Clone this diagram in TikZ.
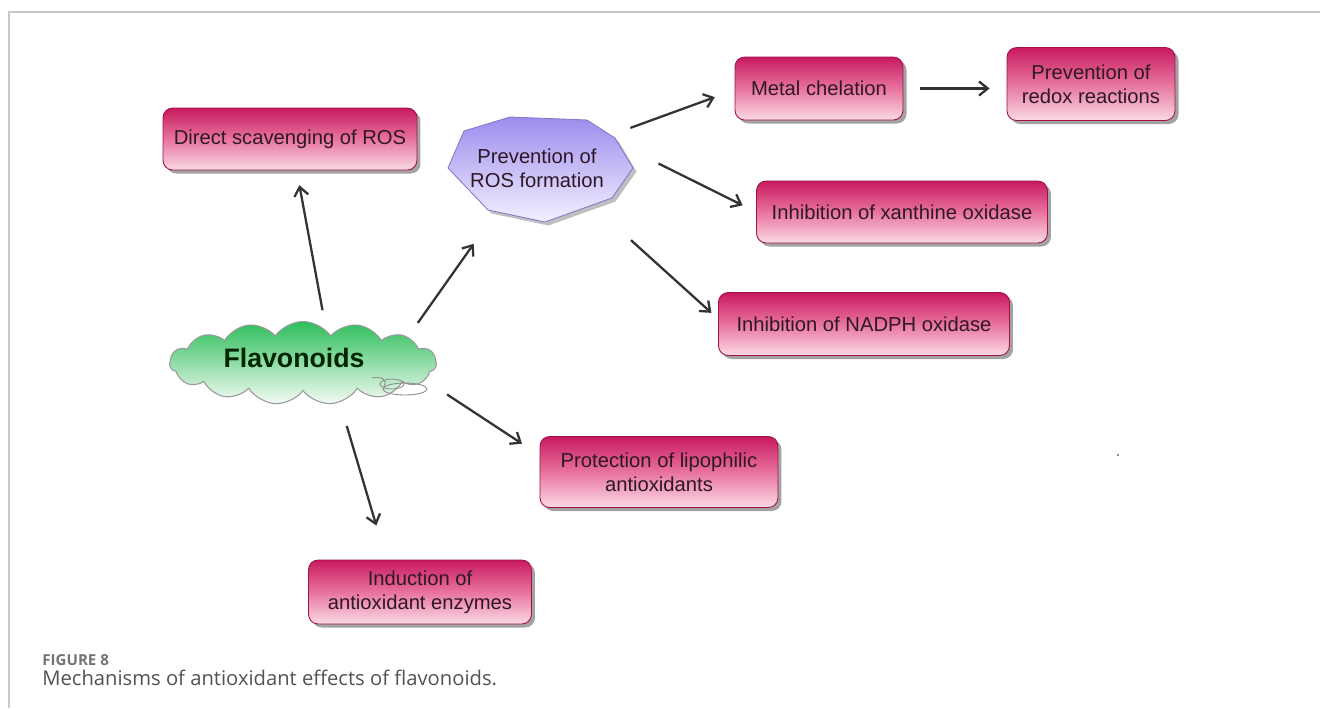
\documentclass[tikz,border=0pt]{standalone}
\usepackage{fontspec}
\setmainfont{Liberation Sans}
\newfontfamily\capfont{Open Sans}
\usetikzlibrary{shapes.geometric,shapes.symbols,shadows,arrows.meta}

\definecolor{boxtop}{HTML}{C81A5E}
\definecolor{boxmid}{HTML}{E8739F}
\definecolor{boxbot}{HTML}{FADAE5}
\definecolor{boxedge}{HTML}{A0104A}
\definecolor{boxtext}{HTML}{2E1826}
\definecolor{octtop}{HTML}{9C8CEE}
\definecolor{octbot}{HTML}{F4F0FF}
\definecolor{octedge}{HTML}{8878C8}
\definecolor{cloudtop}{HTML}{2DBE5A}
\definecolor{cloudbot}{HTML}{F4FBF4}
\definecolor{framegray}{HTML}{C8C8C8}

\tikzset{
  effect/.style={rectangle, rounded corners=5.5pt, draw=boxedge, line width=0.5pt,
    top color=boxtop, bottom color=boxbot, middle color=boxmid, text=boxtext,
    font=\fontsize{11.5}{13.5}\selectfont, align=center, inner sep=0pt,
    drop shadow={shadow xshift=2pt, shadow yshift=-2pt, fill=black!60, opacity=0.6}},
  link/.style={-{Straight Barb[length=5pt,width=8pt]}, line width=1.3pt, black!80},
}

\begin{document}
\begin{tikzpicture}[x=0.02cm,y=-0.02cm]
\useasboundingbox (0,0) rectangle (1320,708);
\draw[framegray, line width=1pt] (9,708) -- (9,12) -- (1320,12);

% octagon behind the text node
\path[draw=octedge, line width=0.5pt, top color=octtop, bottom color=octbot,
  drop shadow={shadow xshift=2pt, shadow yshift=-2pt, fill=black!50, opacity=0.5}]
  (448,168) -- (464,131) -- (510,117) -- (587,120) -- (615,138) -- (633,168)
  -- (612,198) -- (545,222) -- (488,210) -- cycle;
\node[ellipse, inner sep=0pt, minimum width=3.4cm, minimum height=2.1cm] (prev) at (548,170) {};
\node[align=center, text=boxtext, font=\fontsize{11.5}{13.5}\selectfont] (prevtxt) at (537,168) {Prevention of\\ROS formation};

\node[cloud, cloud puffs=15, cloud puff arc=110, cloud ignores aspect, draw=black!40, line width=0.6pt,
  top color=cloudtop, bottom color=cloudbot, minimum width=5.34cm, minimum height=1.66cm,
  inner sep=0pt] (flav) at (303,363) {};
\node[text={black!85!green}, font=\fontsize{15.2}{17}\selectfont\bfseries] (flavtxt) at (294,358) {Flavonoids};
\draw[black!45, line width=0.5pt] (405,389) ellipse [x radius=0.44cm, y radius=0.12cm];
\draw[black!45, line width=0.5pt] (392,384) ellipse [x radius=0.24cm, y radius=0.1cm];
\draw[black!45, line width=0.5pt] (372,378) .. controls (382,376) and (388,380) .. (384,386);

\node[effect, minimum width=5.08cm, minimum height=1.24cm] (direct) at (290,139) {Direct scavenging of ROS};
\node[effect, minimum width=3.36cm, minimum height=1.26cm] (metal) at (819,88.5) {Metal chelation};
\node[effect, minimum width=3.36cm, minimum height=1.46cm] (redox) at (1091,84) {Prevention of\\redox reactions};
\node[effect, minimum width=5.82cm, minimum height=1.24cm] (xanth) at (902,212) {Inhibition of xanthine oxidase};
\node[effect, minimum width=5.82cm, minimum height=1.26cm] (nadph) at (864,324) {Inhibition of NADPH oxidase};
\node[effect, minimum width=4.76cm, minimum height=1.42cm] (protect) at (659,472) {Protection of lipophilic\\antioxidants};
\node[effect, minimum width=4.46cm, minimum height=1.28cm] (induct) at (420,592) {Induction of\\antioxidant enzymes};

\draw[link, shorten <=0.4cm, shorten >=0.3cm] (flav.55.7) -- (direct.-78.2);
\draw[link, shorten <=0.34cm, shorten >=0.78cm] (flav.14.8) -- (prev.-141);
\draw[link, shorten <=0.4cm, shorten >=0.42cm] (prev.29) -- (metal.181);
\draw[link, shorten <=0.34cm, shorten >=0.34cm] (metal.east) -- (metal.east -| redox.west);
\draw[link, shorten <=0.76cm, shorten >=0.3cm] (prev.17.7) -- (xanth.180.8);
\draw[link, shorten <=0.84cm, shorten >=0.18cm] (prev.-39.5) -- (nadph.178.8);
\draw[link, shorten <=0.52cm, shorten >=0.42cm] (flav.-8.5) -- (protect.172.8);
\draw[link, shorten <=0.49cm, shorten >=0.71cm] (flav.-47.6) -- (induct.136);

\fill[black!60] (1118,455) circle (0.7pt);

\node[anchor=base west, inner sep=0pt, text=black!55, font=\capfont\fontsize{8.6}{10}\selectfont\bfseries] (figno) at (42,665) {FIGURE 8};
\node[anchor=base west, inner sep=0pt, text=black!68, font=\capfont\fontsize{11.5}{13}\selectfont] (capt) at (42,685) {Mechanisms of antioxidant effects of flavonoids.};
\end{tikzpicture}
\end{document}
